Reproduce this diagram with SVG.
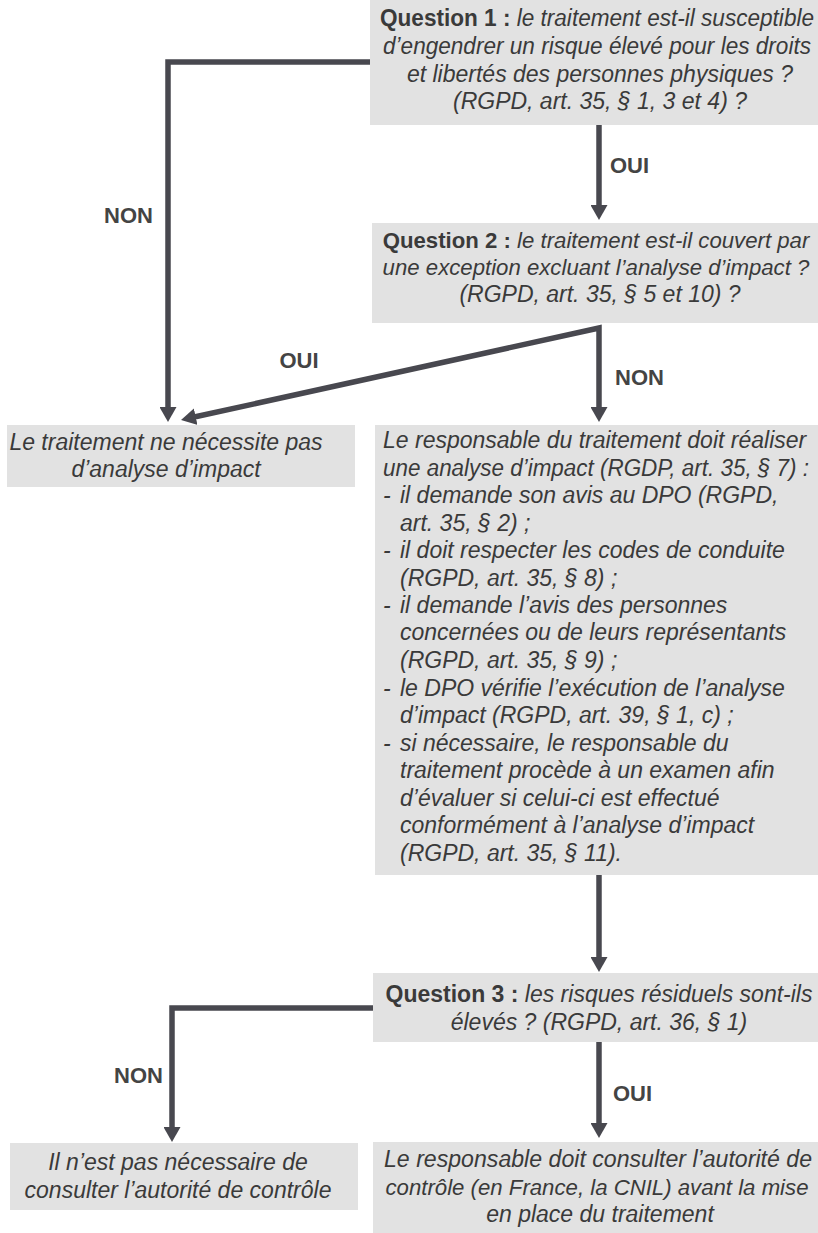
<svg xmlns="http://www.w3.org/2000/svg" width="818" height="1233" viewBox="0 0 818 1233">
  <style>
    .box { fill: #e2e2e2; }
    .t { font-family: "Liberation Sans", Arial, sans-serif; font-size: 23px; font-style: italic; fill: #3a3a3a; }
    .s { font-size: 22.2px; }
    .c { text-anchor: middle; }
    .q { font-style: normal; font-weight: bold; fill: #3a3a3a; }
    .lbl { font-family: "Liberation Sans", Arial, sans-serif; font-size: 22px; font-weight: bold; fill: #444; }
    .conn { fill: none; stroke: #48484f; stroke-width: 5.5; stroke-linejoin: miter; marker-end: url(#arr); }
  </style>
  <defs>
    <marker id="arr" viewBox="0 0 15 17" refX="5" refY="8.5" markerWidth="15" markerHeight="17" markerUnits="userSpaceOnUse" orient="auto-start-reverse">
      <path d="M0,0 L15,8.5 L0,17 Z" fill="#48484f"/>
    </marker>
  </defs>
  <rect width="818" height="1233" fill="#ffffff"/>

  <g id="q1">
    <rect class="box" x="370" y="0" width="448" height="125"/>
    <text class="t c" x="597" y="26" textLength="434" lengthAdjust="spacingAndGlyphs"><tspan class="q">Question 1 :</tspan> le traitement est-il susceptible</text>
    <text class="t c" x="597" y="54" textLength="428" lengthAdjust="spacingAndGlyphs">d’engendrer un risque élevé pour les droits</text>
    <text class="t c" x="600" y="82">et libertés des personnes physiques ?</text>
    <text class="t c" x="600" y="109">(RGPD, art. 35, § 1, 3 et 4) ?</text>
  </g>

  <g id="q2">
    <rect class="box" x="372" y="223" width="446" height="100"/>
    <text class="t s c" x="596" y="248"><tspan class="q">Question 2 :</tspan> le traitement est-il couvert par</text>
    <text class="t s c" x="596" y="275">une exception excluant l’analyse d’impact ?</text>
    <text class="t c" x="600" y="302">(RGPD, art. 35, § 5 et 10) ?</text>
  </g>

  <g id="no-analysis">
    <rect class="box" x="7" y="425" width="348" height="62"/>
    <text class="t c" x="166" y="450">Le traitement ne nécessite pas</text>
    <text class="t c" x="166" y="477">d’analyse d’impact</text>
  </g>

  <g id="analysis">
    <rect class="box" x="375" y="425" width="443" height="450"/>
    <text class="t" x="383" y="448">Le responsable du traitement doit réaliser</text>
    <text class="t" x="383" y="476" textLength="426" lengthAdjust="spacingAndGlyphs">une analyse d’impact (RGDP, art. 35, § 7) :</text>
    <text class="t" x="383" y="503">-</text>
    <text class="t" x="400" y="503">il demande son avis au DPO (RGPD,</text>
    <text class="t" x="400" y="531">art. 35, § 2) ;</text>
    <text class="t" x="383" y="558">-</text>
    <text class="t" x="400" y="558">il doit respecter les codes de conduite</text>
    <text class="t" x="400" y="586">(RGPD, art. 35, § 8) ;</text>
    <text class="t" x="383" y="613">-</text>
    <text class="t" x="400" y="613">il demande l’avis des personnes</text>
    <text class="t" x="400" y="640">concernées ou de leurs représentants</text>
    <text class="t" x="400" y="668">(RGPD, art. 35, § 9) ;</text>
    <text class="t" x="383" y="696">-</text>
    <text class="t" x="400" y="696">le DPO vérifie l’exécution de l’analyse</text>
    <text class="t" x="400" y="723">d’impact (RGPD, art. 39, § 1, c) ;</text>
    <text class="t" x="383" y="751">-</text>
    <text class="t" x="400" y="751">si nécessaire, le responsable du</text>
    <text class="t" x="400" y="778">traitement procède à un examen afin</text>
    <text class="t" x="400" y="806">d’évaluer si celui-ci est effectué</text>
    <text class="t" x="400" y="833">conformément à l’analyse d’impact</text>
    <text class="t" x="400" y="861">(RGPD, art. 35, § 11).</text>
  </g>

  <g id="q3">
    <rect class="box" x="373" y="973" width="445" height="69"/>
    <text class="t c" x="599" y="1002"><tspan class="q">Question 3 :</tspan> les risques résiduels sont-ils</text>
    <text class="t c" x="599" y="1030">élevés ? (RGPD, art. 36, § 1)</text>
  </g>

  <g id="no-consult">
    <rect class="box" x="10" y="1143" width="348" height="67"/>
    <text class="t c" x="178" y="1170">Il n’est pas nécessaire de</text>
    <text class="t c" x="178" y="1198">consulter l’autorité de contrôle</text>
  </g>

  <g id="consult">
    <rect class="box" x="373" y="1142" width="445" height="91"/>
    <text class="t c" x="598" y="1167" textLength="428" lengthAdjust="spacingAndGlyphs">Le responsable doit consulter l’autorité de</text>
    <text class="t s c" x="597" y="1195">contrôle (en France, la CNIL) avant la mise</text>
    <text class="t c" x="600" y="1222">en place du traitement</text>
  </g>

  <g id="connectors">
    <path class="conn" d="M370,62 H168 V412"/>
    <path class="conn" d="M599,125 V210"/>
    <path class="conn" style="marker-start:url(#arr)" d="M190.8,417.8 L599,328 V412"/>
    <path class="conn" d="M599,875 V962"/>
    <path class="conn" d="M373,1008 H172 V1132"/>
    <path class="conn" d="M599,1042 V1128"/>
    <text class="lbl" x="153" y="223" text-anchor="end">NON</text>
    <text class="lbl" x="610" y="173">OUI</text>
    <text class="lbl" x="299" y="368" text-anchor="middle">OUI</text>
    <text class="lbl" x="615" y="385">NON</text>
    <text class="lbl" x="163" y="1083" text-anchor="end">NON</text>
    <text class="lbl" x="613" y="1101">OUI</text>
  </g>
</svg>
